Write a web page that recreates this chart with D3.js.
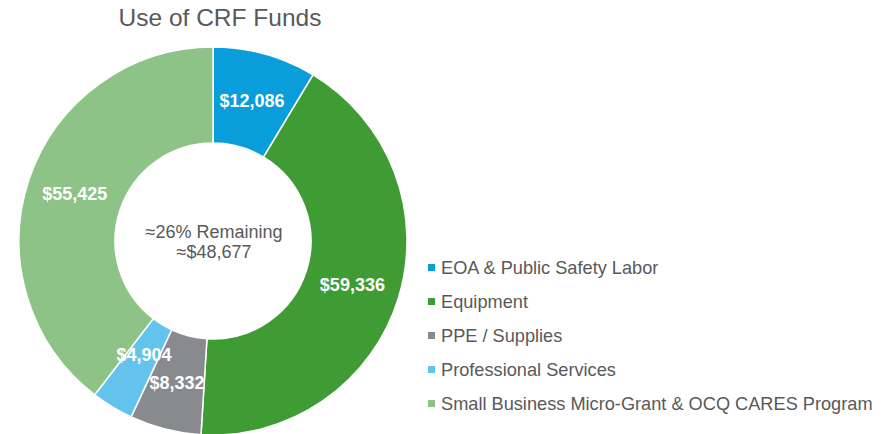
<!DOCTYPE html>
<html>
<head>
    <title>Use of CRF Funds - D3.js</title>
    <script src="https://d3js.org/d3.v7.min.js"></script>
    <style>
        body { margin: 0; background: #fff; }
        svg { display: block; font-family: "Liberation Sans", Arial, sans-serif; }
        .chart-title { font-size: 24.5px; fill: #595959; text-anchor: middle; }
        .slice-label { font-size: 18px; font-weight: bold; fill: #fff; text-anchor: middle; }
        .center-text { font-size: 18px; fill: #595959; text-anchor: middle; }
        .legend text { font-size: 18.2px; fill: #595959; }
    </style>
</head>
<body>
<div id="chart"></div>
<script>
    // data
    const categories = [
        "EOA & Public Safety Labor",
        "Equipment",
        "PPE / Supplies",
        "Professional Services",
        "Small Business Micro-Grant & OCQ CARES Program"
    ];
    const amounts = [12086, 59336, 8332, 4904, 55425];
    const colors = ["#0a9ddc", "#3f9c35", "#898a8d", "#63c3ec", "#8dc386"];
    const centerLines = ["\u224826% Remaining", "\u2248$48,677"];

    const width = 893, height = 434;
    const cx = 213, cy = 241;
    const outerR = 194, innerR = 98;

    const svg = d3.select("#chart").append("svg")
        .attr("width", width)
        .attr("height", height);

    svg.append("text")
        .attr("class", "chart-title")
        .attr("x", 220)
        .attr("y", 26)
        .text("Use of CRF Funds");

    const data = categories.map((c, i) => ({ name: c, value: amounts[i] }));

    const color = d3.scaleOrdinal().domain(categories).range(colors);

    const pie = d3.pie().value(d => d.value).sort(null);
    const arc = d3.arc().innerRadius(innerR).outerRadius(outerR);

    const g = svg.append("g").attr("transform", `translate(${cx},${cy})`);

    const arcs = pie(data);

    g.selectAll("path")
        .data(arcs)
        .enter()
        .append("path")
        .attr("d", arc)
        .attr("fill", d => color(d.data.name))
        .attr("stroke", "#fff")
        .attr("stroke-width", 1.5);

    // small slice label sits a bit further in
    const labelArc = d => d.data.value < 6000
        ? d3.arc().innerRadius(88).outerRadius(178)
        : arc;

    g.selectAll(".slice-label")
        .data(arcs)
        .enter()
        .append("text")
        .attr("class", "slice-label")
        .attr("transform", d => `translate(${labelArc(d).centroid(d)})`)
        .attr("dy", "0.35em")
        .text(d => "$" + d3.format(",")(d.data.value));

    g.selectAll(".center-text")
        .data(centerLines)
        .enter()
        .append("text")
        .attr("class", "center-text")
        .attr("x", 1)
        .attr("y", (d, i) => -3 + i * 20)
        .text(d => d);

    // legend
    const legendY = d3.scalePoint()
        .domain(categories)
        .range([268, 404]);

    const legend = svg.append("g").attr("class", "legend")
        .selectAll("g")
        .data(categories)
        .enter()
        .append("g")
        .attr("transform", d => `translate(428,${legendY(d)})`);

    legend.append("rect")
        .attr("x", 0)
        .attr("y", -4)
        .attr("width", 7)
        .attr("height", 7)
        .attr("fill", d => color(d));

    legend.append("text")
        .attr("x", 13)
        .attr("dy", "0.35em")
        .text(d => d);
</script>
</body>
</html>
